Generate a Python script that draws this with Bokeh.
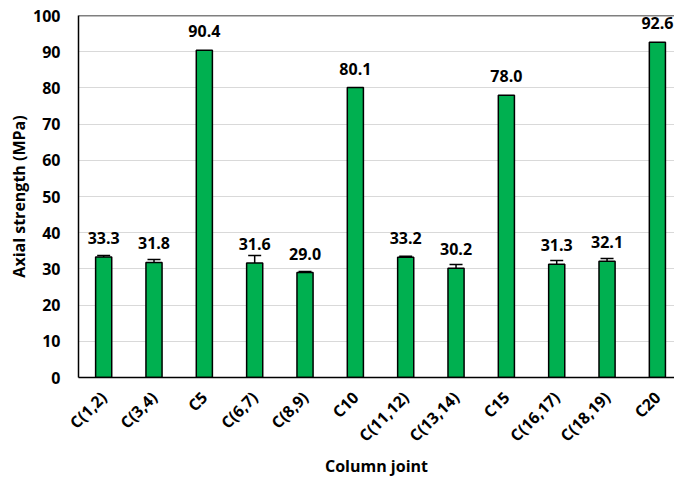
from math import pi

from bokeh.core.properties import value
from bokeh.embed import file_html
from bokeh.resources import INLINE
from bokeh.plotting import figure
from bokeh.models import (ColumnDataSource, Whisker, LabelSet, TeeHead,
                          FixedTicker, Span)

# Axial strength of each column joint (MPa) with standard deviation
joints = ["C(1,2)", "C(3,4)", "C5", "C(6,7)", "C(8,9)", "C10",
          "C(11,12)", "C(13,14)", "C15", "C(16,17)", "C(18,19)", "C20"]
strength = [33.3, 31.8, 90.4, 31.6, 29.0, 80.1, 33.2, 30.2, 78.0, 31.3, 32.1, 92.6]
std_dev = [0.4, 0.8, None, 2.1, 0.3, None, 0.3, 1.0, None, 1.0, 0.8, None]
y_ticks = list(range(0, 101, 10))

FONT = "Open Sans"
GREEN = "#00B050"

pos = list(range(len(joints)))

bars = ColumnDataSource(dict(
    x=pos,
    strength=strength,
    label=[f"{v:.1f}" for v in strength],
))

err_idx = [i for i, e in enumerate(std_dev) if e is not None]
errs = ColumnDataSource(dict(
    x=[pos[i] for i in err_idx],
    upper=[strength[i] + std_dev[i] for i in err_idx],
    lower=[strength[i] - std_dev[i] for i in err_idx],
))

# the last slot runs slightly past the right edge of the page
p = figure(
    x_range=(-0.5, len(joints) - 0.66), y_range=(0, 100),
    width=674, height=482,
    output_backend="svg", toolbar_location=None,
    min_border_left=78, min_border_right=0,
    min_border_top=15, min_border_bottom=105,
)

p.vbar(x="x", top="strength", width=0.32, source=bars,
       fill_color=GREEN, line_color="black", line_width=1.5)

cap = dict(size=13, line_color="black", line_width=1.5)
p.add_layout(Whisker(base="x", upper="upper", lower="lower", source=errs,
                     line_color="black", line_width=1.5,
                     upper_head=TeeHead(**cap), lower_head=TeeHead(**cap)))

p.add_layout(LabelSet(x="x", y="strength", text="label", source=bars,
                      y_offset=19, text_align="center", text_baseline="middle",
                      text_font=value(FONT), text_font_style="bold",
                      text_font_size="16px", text_color="black"))

# frame and grid
p.outline_line_color = None
p.add_layout(Span(location=100, dimension="width",
                  line_color="black", line_width=1.5))
p.xgrid.grid_line_color = None
p.ygrid.grid_line_color = "#d9d9d9"
p.ygrid.grid_line_width = 1

p.yaxis.ticker = FixedTicker(ticks=y_ticks)
p.xaxis.ticker = FixedTicker(ticks=pos)
p.xaxis.major_label_overrides = {i: name for i, name in zip(pos, joints)}

for ax in (p.xaxis, p.yaxis):
    ax.axis_line_color = "black"
    ax.axis_line_width = 1.5
    ax.major_tick_line_color = None
    ax.minor_tick_line_color = None
    ax.major_label_text_font = FONT
    ax.major_label_text_font_style = "bold"
    ax.major_label_text_font_size = "16px"
    ax.major_label_text_color = "black"
    ax.axis_label_text_font = FONT
    ax.axis_label_text_font_style = "bold"
    ax.axis_label_text_font_size = "16px"
    ax.axis_label_text_color = "black"

p.yaxis.axis_label = "Axial strength (MPa)"
p.yaxis.major_label_standoff = 12
p.yaxis.axis_label_standoff = 0

p.xaxis.axis_label = "Column joint"
p.xaxis.major_label_orientation = pi / 4
p.xaxis.major_label_standoff = 11
p.xaxis.axis_label_standoff = -2

open("out.html", "w").write(file_html(p, INLINE))
